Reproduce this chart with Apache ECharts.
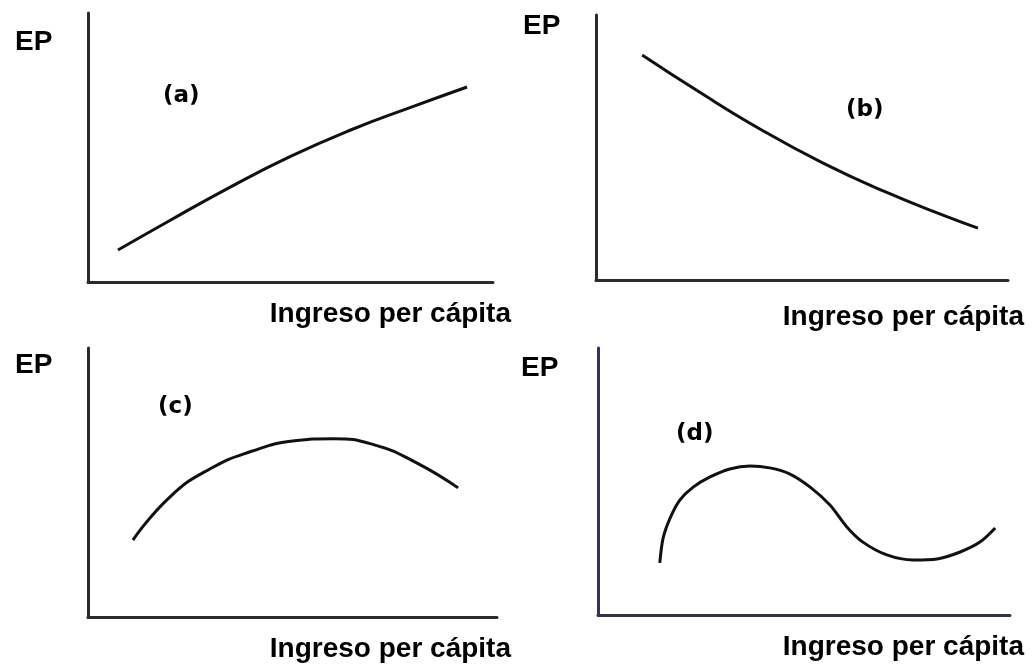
<!DOCTYPE html>
<html>
<head>
<meta charset="utf-8">
<script src="https://cdn.jsdelivr.net/npm/echarts@6/dist/echarts.min.js"></script>
<style>
  html, body { margin: 0; padding: 0; background: #fff; }
  #chart { width: 1033px; height: 664px; }
</style>
</head>
<body>
<div id="chart"></div>
<script>
// curve points [ingreso, EP] on a 0-100 scale
var curveA = [[7.4, 11.9], [20, 22.7], [35, 35.2], [50, 46.7], [65, 56.6], [80, 65.1], [93.6, 72.5]];
var curveB = [[11.2, 84.9], [25, 71.0], [40, 56.8], [55, 44.2], [70, 33.4], [85, 24.0], [92.7, 19.6]];
var curveC = [[11.0, 28.6], [20, 44.6], [30, 55.2], [40, 61.6], [50, 65.4], [60, 66.3],
              [70, 64.0], [80, 57.6], [90.5, 48.0]];
var curveD = [[15.0, 19.5], [15.8, 28.8], [17.5, 36.3], [19.9, 43.1], [23.1, 47.9], [27.2, 51.7],
              [32.0, 54.7], [36.9, 55.8], [41.7, 55.1], [46.6, 52.8], [51.5, 47.9], [56.3, 41.2],
              [60.4, 33.0], [64.3, 27.3], [70.1, 22.5], [76.5, 20.6], [82.3, 21.0], [87.9, 23.6],
              [92.7, 27.3], [96.4, 32.6]];

var panelTags = ['(a)', '(b)', '(c)', '(d)'];
var yName = 'EP';
var xName = 'Ingreso per cápita';

var myChart = echarts.init(document.getElementById('chart'));

// grid boxes for the four panels
var grids = [
    { left: 88, top: 13, width: 405, height: 269 },
    { left: 596, top: 15, width: 412, height: 265 },
    { left: 88, top: 348, width: 409, height: 269 },
    { left: 598, top: 348, width: 412, height: 267 }
];
var axisColors = ['#2b2b2b', '#2b2b2b', '#2b2b2b', '#34344c'];
var curves = [curveA, curveB, curveC, curveD];
var smoothness = [0.5, 0.5, 0.5, 0.3];

function axis(i) {
    return {
        type: 'value', gridIndex: i, min: 0, max: 100,
        axisLine: { show: true, onZero: false, lineStyle: { color: axisColors[i], width: 3 } },
        axisTick: { show: false }, axisLabel: { show: false }, splitLine: { show: false }
    };
}

var bold = 'bold 28px "Liberation Sans", Arial, sans-serif';
var tagFont = 'bold 23px "DejaVu Sans", sans-serif';

// label spots: [EP x, EP y, tag x, tag y, xlabel right x, xlabel y]
var spots = [
    [15, 44, 163, 99, 511, 316],
    [523, 28, 846, 113, 1024, 319],
    [15, 367, 158, 410, 511, 651],
    [521, 370, 676, 437, 1024, 649]
];

var texts = [];
spots.forEach(function (s, i) {
    texts.push({ type: 'text', left: s[0], top: s[1] - 16, style: { text: yName, font: bold, fill: '#000' } });
    texts.push({ type: 'text', left: s[2], top: s[3] - 14, style: { text: panelTags[i], font: tagFont, fill: '#000' } });
    texts.push({ type: 'text', right: 1033 - s[4], top: s[5] - 16, style: { text: xName, font: bold, fill: '#000' } });
});

myChart.setOption({
    animation: false,
    grid: grids,
    xAxis: [0, 1, 2, 3].map(axis),
    yAxis: [0, 1, 2, 3].map(axis),
    series: curves.map(function (c, i) {
        return {
            type: 'line', xAxisIndex: i, yAxisIndex: i, data: c,
            smooth: smoothness[i], showSymbol: false,
            lineStyle: { color: '#111', width: 3 }
        };
    }),
    graphic: texts
});
</script>
</body>
</html>
